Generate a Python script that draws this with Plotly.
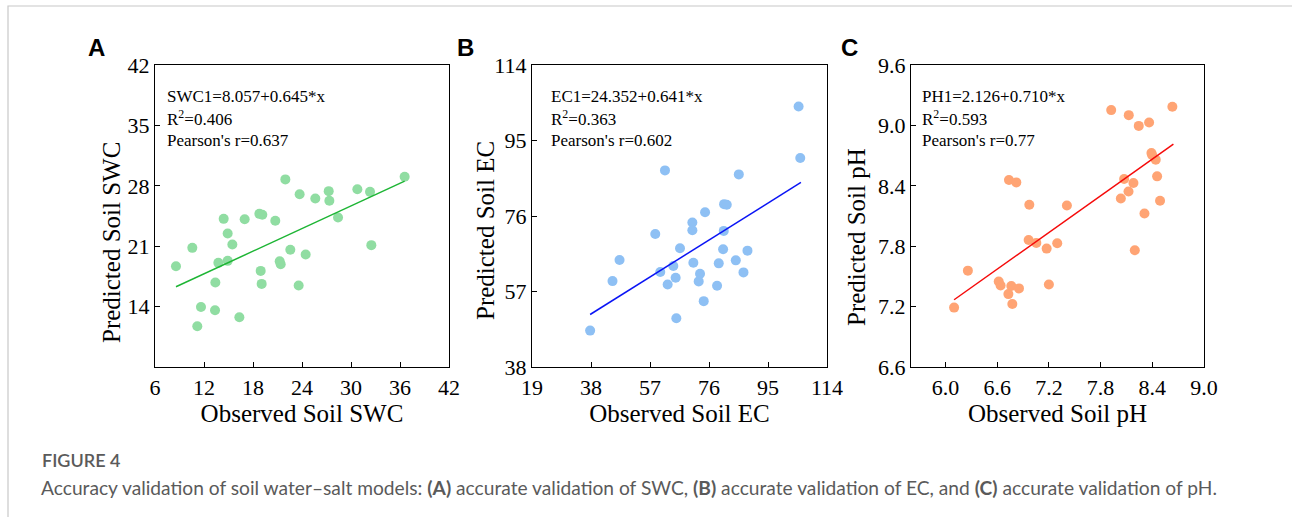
import plotly.graph_objects as go

W, H = 1292, 517

# ---------------- data ----------------
swc_obs = [8.57, 10.57, 11.18, 11.63, 13.35, 13.39, 13.76, 14.41, 14.90, 14.90, 15.47, 16.33,
           16.98, 18.78, 19.14, 18.94, 19.06, 20.73, 21.27, 21.39, 21.96, 22.57, 23.59, 23.71,
           24.45, 25.63, 27.27, 27.35, 28.41, 30.78, 32.33, 32.49, 36.57]
swc_pred = [18.68, 20.81, 11.72, 13.96, 13.58, 16.79, 19.07, 24.17, 22.47, 19.30, 21.20, 12.77,
            24.13, 24.75, 24.64, 18.14, 16.63, 23.94, 19.26, 18.91, 28.74, 20.58, 16.44, 27.03,
            20.04, 26.53, 27.38, 26.26, 24.33, 27.61, 27.30, 21.12, 29.05]
swc_fit_x = [8.57, 36.57]
swc_fit_y = [16.3, 28.54]

ec_obs = [37.72, 44.93, 47.19, 58.70, 60.31, 61.82, 62.68, 64.51, 65.26, 65.48, 66.66, 70.64,
          70.64, 70.96, 72.68, 73.11, 74.30, 74.73, 78.60, 79.14, 80.54, 80.75, 80.86, 81.72,
          84.63, 85.60, 87.10, 88.39, 104.85, 105.39]
ec_pred = [47.16, 59.62, 64.93, 71.49, 61.90, 87.48, 58.78, 63.41, 60.47, 50.28, 67.87, 74.35,
           72.41, 64.25, 59.54, 61.47, 54.57, 76.96, 58.44, 64.08, 67.62, 72.25, 78.98, 78.81,
           64.84, 86.47, 61.81, 67.28, 103.56, 90.60]
ec_fit_x = [37.72, 105.6]
ec_fit_y = [51.21, 84.45]

ph_obs = [6.10, 6.26, 6.618, 6.64, 6.73, 6.764, 6.776, 6.853, 6.737, 6.822, 6.965, 6.973, 7.054,
          7.174, 7.20, 7.297, 7.409, 7.923, 8.035, 8.073, 8.124, 8.127, 8.181, 8.197, 8.243,
          8.309, 8.363, 8.39, 8.398, 8.44, 8.456, 8.49, 8.633]
ph_pred = [7.19, 7.557, 7.45, 7.41, 7.324, 7.404, 7.225, 7.381, 8.457, 8.434, 7.862, 8.211, 7.833,
           7.776, 7.42, 7.829, 8.205, 9.152, 8.274, 8.467, 8.344, 9.102, 8.427, 7.759, 8.995,
           8.125, 9.029, 8.726, 8.706, 8.66, 8.494, 8.251, 9.185]
ph_fit_x = [6.10, 8.645]
ph_fit_y = [7.268, 8.813]

panel_letters = ["A", "B", "C"]
x_titles = ["Observed Soil SWC", "Observed Soil EC", "Observed Soil pH"]
y_titles = ["Predicted Soil SWC", "Predicted Soil EC", "Predicted Soil pH"]
eq_texts = [
    ["SWC1=8.057+0.645*x", "R<sup>2</sup>=0.406", "Pearson's r=0.637"],
    ["EC1=24.352+0.641*x", "R<sup>2</sup>=0.363", "Pearson's r=0.602"],
    ["PH1=2.126+0.710*x", "R<sup>2</sup>=0.593", "Pearson's r=0.77"],
]
x_ticks = [[6, 12, 18, 24, 30, 36, 42], [19, 38, 57, 76, 95, 114],
           [6.0, 6.6, 7.2, 7.8, 8.4, 9.0]]
y_ticks = [[14, 21, 28, 35, 42], [38, 57, 76, 95, 114], [6.6, 7.2, 7.8, 8.4, 9.0, 9.6]]
x_ranges = [[6, 42], [19, 114], [5.6, 9.0]]
y_ranges = [[7, 42], [38, 114], [6.6, 9.6]]
caption_title = "FIGURE 4"
caption_html = ("Accuracy validation of soil water\u2013salt models: <b>(A)</b> accurate validation of SWC, "
                "<b>(B)</b> accurate validation of EC, and <b>(C)</b> accurate validation of pH.")

# ---------------- styles ----------------
point_colors = ["#90DDA2", "#8EC0F4", "#FFA474"]
line_colors = ["#1DB534", "#0A14F5", "#F50A0A"]
SERIF = "Liberation Serif, Times New Roman, serif"

# panel boxes in pixels (left, right, top, bottom)
boxes = [(155, 449, 65, 367), (532, 827, 65, 367), (911, 1204, 65, 367)]
letter_x = [96, 465, 849]
text_x = [165, 549, 920]
ytitle_pos = [(112, 243), (485, 231), (856, 237)]

def px(x):
    return x / W

def py(y):
    return 1 - y / H

fig = go.Figure()
obs = [swc_obs, ec_obs, ph_obs]
pred = [swc_pred, ec_pred, ph_pred]
fx = [swc_fit_x, ec_fit_x, ph_fit_x]
fy = [swc_fit_y, ec_fit_y, ph_fit_y]

annotations = []
for i in range(3):
    xa = "x" if i == 0 else f"x{i+1}"
    ya = "y" if i == 0 else f"y{i+1}"
    fig.add_trace(go.Scatter(x=obs[i], y=pred[i], mode="markers", xaxis=xa, yaxis=ya,
                             marker=dict(size=10, color=point_colors[i], line=dict(width=0)),
                             showlegend=False, hoverinfo="skip"))
    fig.add_trace(go.Scatter(x=fx[i], y=fy[i], mode="lines", xaxis=xa, yaxis=ya,
                             line=dict(color=line_colors[i], width=1.5), showlegend=False,
                             hoverinfo="skip"))
    l, r, t, b = boxes[i]
    axcommon = dict(showline=True, linecolor="black", linewidth=1.3, mirror=True,
                    ticks="inside", ticklen=5, tickwidth=1.2, tickcolor="black",
                    showgrid=False, zeroline=False, automargin=False,
                    tickfont=dict(family=SERIF, size=22, color="black"))
    fig.layout[f"xaxis{'' if i == 0 else i+1}"] = dict(
        domain=[px(l), px(r)], anchor=ya, range=x_ranges[i], tickvals=x_ticks[i],
        tickformat=".1f" if i == 2 else "d",
        title=dict(text=x_titles[i], font=dict(family=SERIF, size=25, color="black"), standoff=4),
        **axcommon)
    fig.layout[f"yaxis{'' if i == 0 else i+1}"] = dict(
        domain=[py(b), py(t)], anchor=xa, range=y_ranges[i], tickvals=y_ticks[i],
        tickformat=".1f" if i == 2 else "d",
        **axcommon)
    annotations.append(dict(text=y_titles[i], x=px(ytitle_pos[i][0]), y=py(ytitle_pos[i][1]),
                            xref="paper", yref="paper", xanchor="center", yanchor="middle",
                            textangle=-90, showarrow=False,
                            font=dict(family=SERIF, size=25, color="black")))
    for k, txt in enumerate(eq_texts[i]):
        annotations.append(dict(text=txt, x=px(text_x[i]), y=py(96 + 22 * k), xref="paper",
                                yref="paper", xanchor="left", yanchor="middle", showarrow=False,
                                font=dict(family=SERIF, size=17, color="black")))
    annotations.append(dict(text=f"<b>{panel_letters[i]}</b>", x=px(letter_x[i]), y=py(47),
                            xref="paper", yref="paper", xanchor="center", yanchor="middle",
                            showarrow=False,
                            font=dict(family="Liberation Sans, Arial, sans-serif", size=24,
                                      color="black")))

annotations.append(dict(text=caption_title, x=px(40), y=py(460), xref="paper", yref="paper",
                        xanchor="left", yanchor="middle", showarrow=False,
                        font=dict(family="Lato, sans-serif", size=18, color="#5a5a5a",
                                  weight=600)))
annotations.append(dict(text=caption_html, x=px(39), y=py(487), xref="paper", yref="paper",
                        xanchor="left", yanchor="middle", showarrow=False,
                        font=dict(family="Lato, sans-serif", size=19.2, color="#5a5a5a")))

shapes = [dict(type="path", path=f"M {px(8)} 0 L {px(8)} {py(6)} L 1.01 {py(6)}",
               xref="paper", yref="paper", line=dict(color="#c8c8c8", width=1.2))]

fig.update_layout(width=W, height=H, margin=dict(l=0, r=0, t=0, b=0, autoexpand=False),
                  template="none", hovermode=False,
                  paper_bgcolor="white", plot_bgcolor="white",
                  annotations=annotations, shapes=shapes)

fig.write_html("out.html", config={"displayModeBar": False},
               post_script="document.body.style.margin='0px';")
